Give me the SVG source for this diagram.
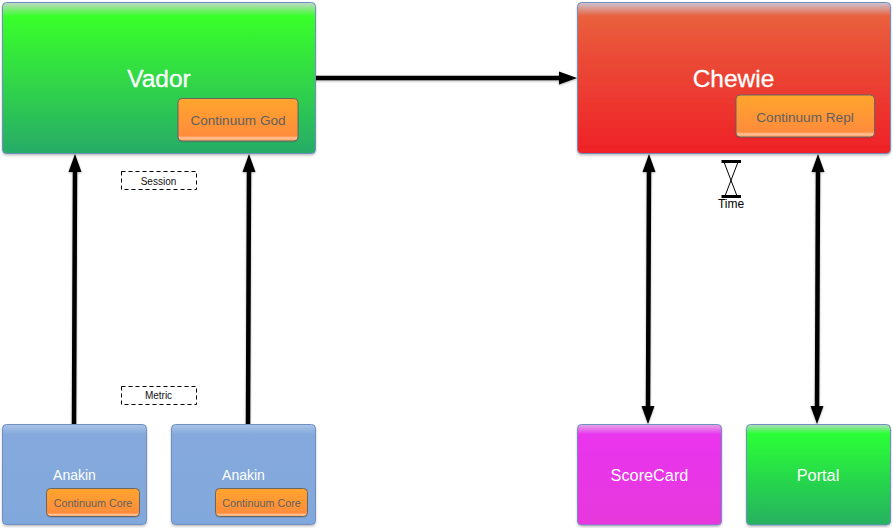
<svg xmlns="http://www.w3.org/2000/svg" width="893" height="528" viewBox="0 0 893 528">
<style>
text{font-family:"Liberation Sans",Arial,sans-serif;text-anchor:middle}
.box{stroke:#6f8fc0;stroke-width:1;filter:url(#sh)}
.inner{stroke:#666;stroke-width:1;filter:url(#sh2)}
.t{fill:#fff}
.big{font-size:24.500px;stroke:#fff;stroke-width:0.300px}
.it{fill:#5f5f5f;font-size:13.600px}
.ic{fill:#5f5f5f;font-size:10.800px}
.lab{fill:none;stroke:#000;stroke-width:1;stroke-dasharray:4 3}
.sm{fill:#111;font-size:10px}
.c{fill:none;stroke:#000;stroke-width:4.500;stroke-linecap:round}
</style>
<defs>
<filter id="sh" x="-5%" y="-5%" width="110%" height="112%"><feDropShadow dx="0" dy="1.500" stdDeviation="1" flood-color="#000" flood-opacity="0.25"/></filter>
<filter id="sh2" x="-5%" y="-5%" width="110%" height="115%"><feDropShadow dx="0" dy="0.500" stdDeviation="0.500" flood-color="#000" flood-opacity="0.2"/></filter>
<filter id="ash" x="-20%" y="-20%" width="140%" height="140%"><feDropShadow dx="0" dy="1" stdDeviation="1" flood-color="#000" flood-opacity="0.3"/></filter>
<linearGradient id="gV" x1="0" y1="0" x2="0" y2="1"><stop offset="0" stop-color="#c3d8c8"/><stop offset="0.09" stop-color="#39ff2a"/><stop offset="1" stop-color="#27ab68"/></linearGradient>
<linearGradient id="gC" x1="0" y1="0" x2="0" y2="1"><stop offset="0" stop-color="#ccc5d2"/><stop offset="0.09" stop-color="#e9603c"/><stop offset="0.3" stop-color="#ea4f38"/><stop offset="1" stop-color="#ef2127"/></linearGradient>
<linearGradient id="gA" x1="0" y1="0" x2="0" y2="1"><stop offset="0" stop-color="#a9c4e8"/><stop offset="0.1" stop-color="#85a9dc"/><stop offset="1" stop-color="#81a8dc"/></linearGradient>
<linearGradient id="gS" x1="0" y1="0" x2="0" y2="1"><stop offset="0" stop-color="#e3a8e6"/><stop offset="0.1" stop-color="#ea35ee"/><stop offset="1" stop-color="#e638dc"/></linearGradient>
<linearGradient id="gP" x1="0" y1="0" x2="0" y2="1"><stop offset="0" stop-color="#b4dcc0"/><stop offset="0.09" stop-color="#2aff36"/><stop offset="1" stop-color="#26b060"/></linearGradient>
<linearGradient id="gO" x1="0" y1="0" x2="0" y2="1"><stop offset="0" stop-color="#ffa52c"/><stop offset="0.88" stop-color="#ff8c3c"/><stop offset="0.93" stop-color="#ffc49c"/><stop offset="1" stop-color="#ff9a50"/></linearGradient>
</defs>

<g id="connectors" filter="url(#ash)">
<path class="c" d="M316 78H563"/>
<path d="M577 78L559 71.500V84.500Z"/>
<path class="c" d="M74 424L75 168"/>
<path d="M75 154L68.500 172H81.500Z"/>
<path class="c" d="M248 424L249 168"/>
<path d="M249 154L242.500 172H255.500Z"/>
<path class="c" d="M649 168L648 410"/>
<path d="M649 154L642.500 172H655.500Z"/>
<path d="M648 424L641.500 406H654.500Z"/>
<path class="c" d="M818 168L817 410"/>
<path d="M818 154L811.500 172H824.500Z"/>
<path d="M817 424L810.500 406H823.500Z"/>
</g>

<g id="vador">
<rect class="box" x="2.500" y="2.500" width="313" height="151" rx="4" fill="url(#gV)"/>
<text class="t big" x="159" y="87">Vador</text>
<rect class="inner" x="178" y="98.500" width="120" height="42.500" rx="4" fill="url(#gO)"/>
<text class="it" x="238" y="125">Continuum God</text>
</g>

<g id="chewie">
<rect class="box" x="577.500" y="2.500" width="313" height="151" rx="4" fill="url(#gC)"/>
<text class="t big" x="733.500" y="87">Chewie</text>
<rect class="inner" x="736" y="95" width="138.500" height="42" rx="4" fill="url(#gO)"/>
<text class="it" x="805" y="122">Continuum Repl</text>
</g>

<g id="anakin1">
<rect class="box" x="2.500" y="424.500" width="144" height="100" rx="4" fill="url(#gA)"/>
<text class="t" x="74.500" y="480" font-size="14">Anakin</text>
<rect class="inner" x="46.500" y="488.500" width="93" height="28" rx="4" fill="url(#gO)"/>
<text class="ic" x="93" y="507">Continuum Core</text>
</g>

<g id="anakin2">
<rect class="box" x="171.500" y="424.500" width="144" height="100" rx="4" fill="url(#gA)"/>
<text class="t" x="243.500" y="480" font-size="14">Anakin</text>
<rect class="inner" x="215.500" y="488.500" width="92" height="28" rx="4" fill="url(#gO)"/>
<text class="ic" x="261.500" y="507">Continuum Core</text>
</g>

<g id="scorecard">
<rect class="box" x="577.500" y="424.500" width="144" height="100.500" rx="4" fill="url(#gS)"/>
<text class="t" x="649.500" y="481" font-size="16.300">ScoreCard</text>
</g>

<g id="portal">
<rect class="box" x="746.500" y="424.500" width="144" height="100.500" rx="4" fill="url(#gP)"/>
<text class="t" x="818" y="481" font-size="16.300">Portal</text>
</g>

<g id="session">
<rect class="lab" x="121.500" y="171.500" width="75" height="18"/>
<text class="sm" x="158.500" y="185">Session</text>
</g>

<g id="metric">
<rect class="lab" x="121.500" y="386.500" width="75" height="18"/>
<text class="sm" x="158.500" y="399">Metric</text>
</g>

<g id="time">
<path d="M721.500 161.500H741M721.500 196.500H741" stroke="#000" stroke-width="3" fill="none"/>
<path d="M724 162L737 196M738 162L725 196" stroke="#000" stroke-width="1" fill="none"/>
<text x="731" y="208" font-size="12" fill="#000">Time</text>
</g>
</svg>
